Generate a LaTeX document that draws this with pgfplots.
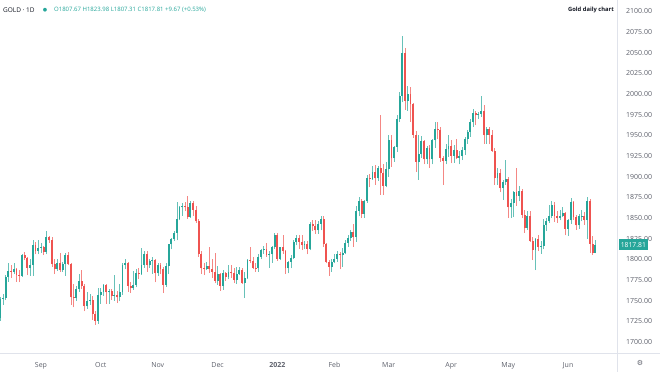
\documentclass[border=0pt]{standalone}
\usepackage{fontspec}
\setmainfont{Open Sans}
\newfontfamily\symfont{DejaVu Sans}
\usepackage{pgfplots}
\usepackage{pgfplotstable}
\pgfplotsset{compat=1.18}
\definecolor{upc}{HTML}{26A69A}
\definecolor{dnc}{HTML}{EF5350}
\definecolor{txt}{HTML}{131722}
\definecolor{lbl}{HTML}{5D606B}
\definecolor{linec}{HTML}{E0E3EB}

\pgfplotstableread{
x o h l c
-15 1729 1754 1726 1752
-14 1752 1758 1745 1753
-13 1753 1781 1751 1779
-12 1779 1795 1773 1786
-11 1786 1793 1778 1785
-10 1785 1795 1782 1788
-9 1788 1790 1773 1781
-8 1781 1787 1772 1780
-7 1780 1806 1779 1805
-6 1805 1809 1799 1802
-5 1802 1803 1781 1790
-4 1790 1801 1780 1793
-3 1793 1823 1780 1817
-2 1817 1821 1806 1810
-1 1810 1823 1806 1814
0 1814 1820 1808 1815
1 1815 1816 1805 1809
2 1809 1834 1806 1827
3 1827 1828 1820 1823
4 1823 1827 1791 1794
5 1794 1801 1782 1788
6 1788 1800 1786 1795
7 1795 1808 1785 1787
8 1787 1797 1785 1794
9 1794 1808 1780 1805
10 1805 1809 1793 1794
11 1794 1796 1745 1754
12 1754 1770 1742 1753
13 1753 1768 1750 1764
14 1764 1782 1761 1774
15 1774 1787 1764 1768
16 1768 1770 1737 1743
17 1743 1760 1740 1750
18 1750 1758 1745 1751
19 1751 1756 1727 1734
20 1734 1738 1721 1726
21 1726 1765 1722 1757
22 1757 1765 1746 1761
23 1761 1770 1756 1769
24 1769 1770 1746 1760
25 1760 1764 1746 1762
26 1762 1764 1751 1756
27 1756 1781 1750 1757
28 1757 1762 1747 1754
29 1754 1770 1749 1760
30 1760 1796 1757 1793
31 1793 1801 1788 1796
32 1796 1797 1761 1768
33 1768 1772 1759 1765
34 1765 1786 1763 1769
35 1769 1788 1766 1783
36 1783 1790 1776 1782
37 1782 1814 1781 1793
38 1793 1810 1790 1807
39 1807 1810 1785 1793
40 1793 1800 1790 1798
41 1798 1803 1782 1799
42 1799 1801 1772 1783
43 1783 1796 1780 1793
44 1793 1795 1782 1788
45 1788 1791 1759 1769
46 1769 1796 1767 1792
47 1792 1818 1782 1818
48 1818 1826 1812 1824
49 1824 1834 1822 1832
50 1832 1869 1823 1849
51 1849 1865 1847 1863
52 1863 1868 1853 1865
53 1865 1869 1858 1863
54 1863 1877 1849 1851
55 1851 1870 1850 1868
56 1868 1870 1853 1860
57 1860 1865 1844 1846
58 1846 1849 1803 1806
59 1806 1810 1782 1789
60 1789 1796 1781 1788
61 1788 1797 1787 1792
62 1792 1815 1784 1788
63 1788 1800 1778 1785
64 1785 1808 1771 1774
65 1774 1792 1769 1782
66 1782 1784 1762 1768
67 1768 1787 1763 1783
68 1783 1785 1774 1779
69 1779 1793 1776 1785
70 1785 1793 1778 1783
71 1783 1790 1771 1775
72 1775 1791 1770 1782
73 1782 1791 1781 1787
74 1787 1789 1770 1771
75 1771 1785 1753 1777
76 1777 1800 1776 1799
77 1799 1815 1795 1798
78 1798 1803 1788 1790
79 1790 1795 1785 1789
80 1789 1806 1785 1803
81 1803 1812 1800 1811
82 1811 1816 1807 1812
83 1812 1820 1803 1805
84 1805 1810 1790 1806
85 1806 1816 1796 1815
86 1815 1832 1813 1829
87 1829 1832 1798 1801
88 1801 1815 1799 1815
89 1815 1829 1807 1810
90 1810 1811 1782 1789
91 1789 1798 1783 1797
92 1797 1805 1789 1802
93 1802 1823 1800 1821
94 1821 1829 1817 1826
95 1826 1830 1813 1821
96 1821 1829 1811 1817
97 1817 1822 1812 1819
98 1819 1822 1806 1813
99 1813 1845 1811 1843
100 1843 1848 1834 1840
101 1840 1847 1831 1835
102 1835 1846 1831 1843
103 1843 1853 1835 1849
104 1849 1853 1815 1819
105 1819 1820 1795 1797
106 1797 1799 1780 1791
107 1791 1800 1785 1797
108 1797 1807 1795 1801
109 1801 1810 1797 1807
110 1807 1809 1788 1805
111 1805 1814 1791 1808
112 1808 1823 1806 1820
113 1820 1829 1815 1826
114 1826 1836 1822 1833
115 1833 1843 1815 1827
116 1827 1865 1821 1859
117 1859 1875 1852 1871
118 1871 1873 1850 1855
119 1855 1872 1850 1870
120 1870 1902 1868 1898
121 1898 1903 1887 1897
122 1897 1913 1896 1906
123 1906 1914 1890 1898
124 1898 1913 1895 1910
125 1910 1974 1878 1904
126 1904 1915 1878 1889
127 1889 1918 1887 1909
128 1909 1950 1900 1944
129 1944 1950 1912 1922
130 1922 1937 1918 1936
131 1936 1974 1930 1970
132 1970 2002 1966 1998
133 1998 2070 1990 2050
134 2050 2056 1981 1992
135 1992 2010 1980 2000
136 2000 2009 1966 1988
137 1988 1989 1947 1951
138 1951 1955 1906 1918
139 1918 1950 1896 1927
140 1927 1949 1923 1943
141 1943 1944 1915 1921
142 1921 1937 1915 1935
143 1935 1938 1911 1921
144 1921 1946 1915 1944
145 1944 1966 1935 1958
146 1958 1966 1945 1957
147 1957 1960 1918 1923
148 1923 1925 1890 1919
149 1919 1939 1915 1933
150 1933 1950 1924 1937
151 1937 1944 1916 1925
152 1925 1938 1917 1932
153 1932 1945 1921 1923
154 1923 1931 1915 1925
155 1925 1936 1920 1932
156 1932 1948 1926 1946
157 1946 1957 1940 1954
158 1954 1970 1948 1966
159 1966 1982 1960 1977
160 1977 1979 1962 1974
161 1974 1978 1970 1976
162 1976 1998 1972 1979
163 1979 1987 1940 1950
164 1950 1960 1940 1958
165 1958 1960 1939 1951
166 1951 1957 1930 1931
167 1931 1935 1890 1898
168 1898 1910 1890 1904
169 1904 1909 1881 1886
170 1886 1896 1872 1894
171 1894 1920 1890 1897
172 1897 1900 1850 1863
173 1863 1873 1850 1868
174 1868 1883 1851 1882
175 1882 1910 1865 1877
176 1877 1889 1870 1883
177 1883 1885 1850 1854
178 1854 1860 1832 1838
179 1838 1859 1836 1852
180 1852 1858 1821 1822
181 1822 1827 1799 1811
182 1811 1826 1787 1824
183 1824 1830 1810 1815
184 1815 1822 1807 1816
185 1816 1849 1812 1842
186 1842 1850 1834 1846
187 1846 1866 1844 1853
188 1853 1870 1850 1866
189 1866 1869 1845 1853
190 1853 1858 1844 1850
191 1850 1860 1847 1853
192 1853 1863 1851 1856
193 1856 1857 1829 1837
194 1837 1849 1828 1847
195 1847 1874 1843 1869
196 1869 1871 1848 1851
197 1851 1854 1836 1841
198 1841 1855 1837 1852
199 1852 1860 1846 1853
200 1853 1857 1842 1848
201 1848 1875 1825 1871
202 1871 1873 1808 1819
203 1819 1828 1805 1808
204 1807.67 1823.98 1807.31 1817.81
}\gold

\begin{document}
\begin{tikzpicture}[x=1pt,y=1pt]
\useasboundingbox (0,-19) rectangle (660,353);
\begin{axis}[
  at={(0,0)}, anchor=south west,
  width=617pt, height=353pt, scale only axis,
  xmin=-15.08, xmax=212, ymin=1686.7, ymax=2113.7,
  axis line style={draw=none},
  axis y line*=right, axis x line*=bottom,
  clip=true,
  major tick length=0pt,
  xtick={0,22,43,65,87,108,128,151,172,194},
  xticklabels={Sep,Oct,Nov,Dec,\textbf{2022},Feb,Mar,Apr,May,Jun},
  xticklabel style={anchor=base, yshift=-14pt, font=\fontsize{7}{8}\selectfont, text=lbl},
  ytick={1700,1725,...,2100},
  yticklabel style={anchor=west, inner sep=0pt, xshift=9pt, font=\fontsize{7}{8}\selectfont, text=lbl,
    /pgf/number format/.cd, fixed, fixed zerofill, precision=2, 1000 sep={}, assume math mode=true},
  scaled y ticks=false,
]
% wicks
\addplot[draw=none, mark=none, forget plot,
  restrict expr to domain={\thisrow{c}-\thisrow{o}}{0:10000},
  error bars/.cd, y dir=plus, y explicit, error mark=none,
  error bar style={draw=upc!70, line width=0.6pt}]
  table[x=x, y=l, y error expr=\thisrow{h}-\thisrow{l}] {\gold};
\addplot[draw=none, mark=none, forget plot,
  restrict expr to domain={\thisrow{c}-\thisrow{o}}{-10000:-0.001},
  error bars/.cd, y dir=plus, y explicit, error mark=none,
  error bar style={draw=dnc!70, line width=0.6pt}]
  table[x=x, y=l, y error expr=\thisrow{h}-\thisrow{l}] {\gold};
% bodies
\addplot[draw=none, mark=none, forget plot,
  restrict expr to domain={\thisrow{c}-\thisrow{o}}{0:10000},
  error bars/.cd, y dir=plus, y explicit, error mark=none,
  error bar style={draw=upc, line width=1.9pt}]
  table[x=x, y=o, y error expr={max(\thisrow{c}-\thisrow{o},0.6)}] {\gold};
\addplot[draw=none, mark=none, forget plot,
  restrict expr to domain={\thisrow{c}-\thisrow{o}}{-10000:-0.001},
  error bars/.cd, y dir=plus, y explicit, error mark=none,
  error bar style={draw=dnc, line width=1.9pt}]
  table[x=x, y=c, y error expr={max(\thisrow{o}-\thisrow{c},0.6)}] {\gold};
\coordinate (pl) at (axis cs:212,1817.81);
\end{axis}
\draw[linec, line width=0.6pt] (0,0) -- (660,0);
\draw[linec, line width=0.6pt] (617,-19) -- (617,353);
\node[anchor=west, font=\fontsize{6.5}{7}\selectfont, text=txt, inner sep=0pt] at (3,343) {GOLD · 1D};
\node[text=upc, font=\symfont\fontsize{5}{5}\selectfont, inner sep=0pt] at (45,343) {●};
\node[anchor=west, font=\fontsize{6}{7}\selectfont, text=upc, inner sep=0pt] at (54,343) {O1807.67 H1823.98 L1807.31 C1817.81 +9.67 (+0.53\%)};
\node[anchor=east, font=\bfseries\fontsize{5.8}{7}\selectfont, text=txt, inner sep=0pt] at (614,343) {Gold daily chart};
\node[anchor=west, fill=upc, text=white, font=\fontsize{6.8}{7}\selectfont, inner sep=1.6pt, minimum height=10.5pt] at ([xshift=2pt]pl) {1817.81};
\node[text=lbl, font=\symfont\fontsize{7}{7}\selectfont, inner sep=0pt] at (640,-10) {⚙};
\end{tikzpicture}
\end{document}
